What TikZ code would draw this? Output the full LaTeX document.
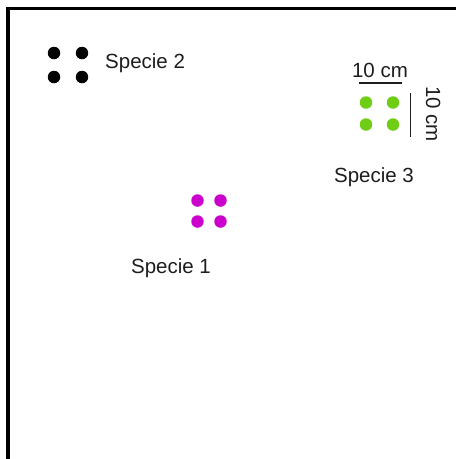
\documentclass[tikz,border=0pt]{standalone}
\usepackage{fontspec}
\setmainfont{Liberation Sans}
\definecolor{dotpurple}{RGB}{204,0,204}
\definecolor{dotgreen}{RGB}{110,205,20}
\definecolor{txt}{RGB}{30,30,30}
\begin{document}
\begin{tikzpicture}[x=1pt,y=-1pt,
  dot/.style={circle,inner sep=0pt,minimum size=12.5pt,fill=#1},
  lbl/.style={inner sep=0pt,font=\fontsize{20.5}{24}\selectfont,text=txt},
  frameline/.style={line width=3.5pt,black},
  scale line/.style={line width=1.2pt,txt}]
\useasboundingbox (0,0) rectangle (456,459);
\fill[white] (0,0) rectangle (456,459);
% frame
\coordinate (ftr) at (456,8.5);
\coordinate (ftl) at (8,8.5);
\coordinate (fbl) at (8,459);
\draw[frameline,line cap=rect] (ftr) -- (ftl) -- (fbl);
% Specie 2 (black)
\node[dot=black] (b1) at (54,53) {};
\node[dot=black] (b2) at (82,53) {};
\node[dot=black] (b3) at (54,77) {};
\node[dot=black] (b4) at (82,77) {};
\node[lbl,anchor=base west] (s2) at (105,68) {Specie 2};
% Specie 3 (green)
\node[dot=dotgreen] (g1) at (366,102.5) {};
\node[dot=dotgreen] (g2) at (393,102.5) {};
\node[dot=dotgreen] (g3) at (366,124.5) {};
\node[dot=dotgreen] (g4) at (393,124.5) {};
\coordinate (h1) at (359,83);
\coordinate (h2) at (402,83);
\draw[scale line] (h1) -- (h2);
\node[lbl,anchor=base] (hl) at (380,77) {10 cm};
\coordinate (v1) at (410.5,93);
\coordinate (v2) at (410.5,137);
\draw[scale line] (v1) -- (v2);
\node[lbl,anchor=base,rotate=-90] (vl) at (426,114) {10 cm};
\node[lbl,anchor=base] (s3) at (374,182) {Specie 3};
% Specie 1 (purple)
\node[dot=dotpurple] (p1) at (197.5,200.5) {};
\node[dot=dotpurple] (p2) at (220.5,200.5) {};
\node[dot=dotpurple] (p3) at (197.5,221.5) {};
\node[dot=dotpurple] (p4) at (220.5,221.5) {};
\node[lbl,anchor=base] (s1) at (171,273) {Specie 1};
\end{tikzpicture}
\end{document}
